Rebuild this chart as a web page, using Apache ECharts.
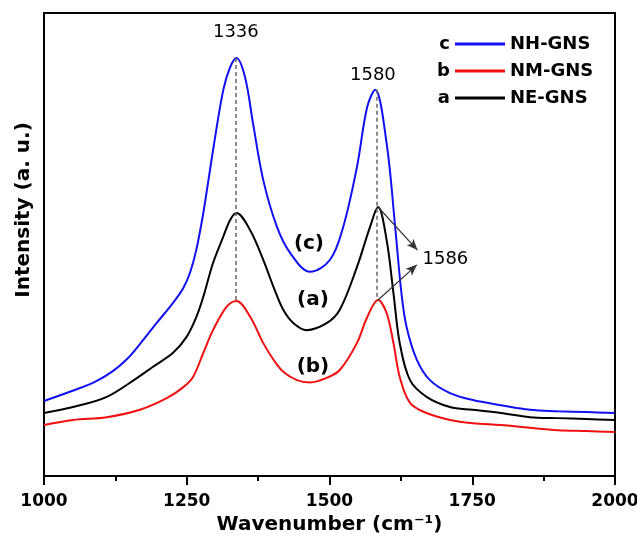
<!DOCTYPE html>
<html><head><meta charset="utf-8">
<script src="https://cdn.jsdelivr.net/npm/echarts@6/dist/echarts.min.js"></script>
<style>html,body{margin:0;padding:0;background:#fff}#c{width:637px;height:548px}</style>
</head><body><div id="c"></div>
<script>
// x-axis ticks
const xTicks = [1000, 1250, 1500, 1750, 2000];
// (c) NH-GNS
const waveC = [1000,1050,1090,1120,1145,1170,1197,1226,1244,1256,1267,1279,1288,1297,1314,1326,1337,1352,1366,1384,1408,1431,1466,1501,1524,1548,1566,1580,1600,1615,1626,1635,1653,1676,1711,1751,1800,1851,1900,1950,2000];
const intC  = [162,184,204,226,252,288,330,374,406,440,490,568,639,711,834,883,903,862,762,639,538,482,441,467,538,667,797,834,719,538,395,322,251,207,179,164,153,143,140,138,136];
// (b) NM-GNS
const waveB = [1000,1051,1110,1168,1215,1244,1261,1279,1296,1320,1337,1361,1384,1402,1419,1443,1466,1495,1518,1548,1566,1585,1600,1612,1623,1641,1670,1711,1751,1800,1851,1900,1950,2000];
const intB  = [110,121,127,143,168,192,214,266,315,366,378,344,287,251,225,207,202,212,229,287,343,380,352,287,214,158,136,121,114,110,104,99,97,95];
// (a) NE-GNS
const waveA = [1000,1051,1110,1162,1191,1226,1250,1267,1279,1296,1314,1326,1337,1361,1384,1402,1419,1437,1460,1495,1518,1548,1571,1585,1600,1612,1623,1641,1670,1711,1751,1800,1851,1900,1950,2000];
const intA  = [136,149,171,211,236,266,301,344,387,460,517,553,568,531,467,408,359,330,315,330,359,451,538,581,510,395,287,207,171,149,143,136,127,125,123,121];

const seriesNames = ['NH-GNS', 'NM-GNS', 'NE-GNS'];
const seriesLetters = ['c', 'b', 'a'];
const seriesColors = ['#1010f0', '#f01010', '#000000'];

// annotations (data coordinates)
const peakLines = [[1336, 903, 378], [1583, 834, 380]];
const arrows = [[[1585, 581], [1654, 488]], [[1585, 380], [1653, 456]]];
const texts = [
  {t: '1336', x: 1336, y: 959, bold: false},
  {t: '1580', x: 1576, y: 866, bold: false},
  {t: '1586', x: 1703, y: 467, bold: false},
  {t: '(c)', x: 1464, y: 501, bold: true},
  {t: '(a)', x: 1471, y: 380, bold: true},
  {t: '(b)', x: 1471, y: 235, bold: true}
];

const zip = (xs, ys) => xs.map((x, i) => [x, ys[i]]);
const FONT = 'DejaVu Sans';

const chart = echarts.init(document.getElementById('c'));
const mkSeries = (name, data, color, extra) => Object.assign({
  name, type: 'line', data, symbol: 'none', showSymbol: false, smooth: 0.35,
  lineStyle: {color, width: 2}, itemStyle: {color}, z: 3
}, extra || {});

chart.setOption({
  animation: false,
  backgroundColor: '#fff',
  grid: {left: 44, right: 22, top: 13, bottom: 72, show: true, borderColor: '#000', borderWidth: 2,
    outerBoundsMode: 'none', containLabel: false},
  legend: {
    orient: 'vertical', left: 455, top: 35, padding: 0, itemGap: 9,
    itemWidth: 50, itemHeight: 3, icon: 'rect',
    data: seriesNames,
    textStyle: {fontFamily: FONT, fontWeight: 'bold', fontSize: 18, lineHeight: 18, color: '#000'}
  },
  xAxis: {
    type: 'value', min: 1000, max: 2000, interval: 250,
    name: 'Wavenumber (cm⁻¹)', nameLocation: 'middle', nameGap: 36,
    nameTextStyle: {fontFamily: FONT, fontWeight: 'bold', fontSize: 20, color: '#000'},
    axisLine: {lineStyle: {color: '#000', width: 2}},
    axisTick: {length: 9, lineStyle: {color: '#000', width: 2}},
    minorTick: {show: true, splitNumber: 2, length: 5, lineStyle: {color: '#000', width: 2}},
    splitLine: {show: false},
    axisLabel: {margin: 17, fontFamily: FONT, fontWeight: 'bold', fontSize: 17, color: '#000',
      formatter: v => String(v)}
  },
  yAxis: {
    type: 'value', min: 0, max: 1000,
    axisLine: {show: true, lineStyle: {color: '#000', width: 2}},
    axisTick: {show: false}, axisLabel: {show: false}, splitLine: {show: false}
  },
  series: [
    mkSeries(seriesNames[0], zip(waveC, intC), seriesColors[0]),
    mkSeries(seriesNames[1], zip(waveB, intB), seriesColors[1]),
    mkSeries(seriesNames[2], zip(waveA, intA), seriesColors[2], {
      markLine: {
        silent: true, animation: false,
        data: peakLines.map(p => [
          {coord: [p[0], p[1]], symbol: 'none', lineStyle: {type: [4, 3], color: '#666', width: 1.5}},
          {coord: [p[0], p[2]], symbol: 'none'}
        ]).concat(arrows.map(a => [
          {coord: a[0], symbol: 'none', lineStyle: {type: 'solid', color: '#333', width: 1.2}},
          {coord: a[1], symbol: 'arrow', symbolSize: [7, 11]}
        ])),
        label: {show: false}
      }
    })
  ]
});

const g = [];
texts.forEach(tx => {
  const p = chart.convertToPixel({gridIndex: 0}, [tx.x, tx.y]);
  g.push({type: 'text', x: p[0], y: p[1], z: 10, style: {
    text: tx.t, align: 'center', verticalAlign: 'middle', fill: '#000',
    font: (tx.bold ? 'bold 20px ' : '18px ') + FONT
  }});
});
seriesLetters.forEach((l, i) => {
  g.push({type: 'text', x: 450, y: 44 + i * 27, style: {
    text: l, align: 'right', verticalAlign: 'middle', fill: '#000', font: 'bold 18px ' + FONT
  }});
});
g.push({type: 'text', x: 24, y: 210, rotation: Math.PI / 2, style: {
  text: 'Intensity (a. u.)', align: 'center', verticalAlign: 'middle', fill: '#000', font: 'bold 20px ' + FONT
}});
chart.setOption({graphic: g});
</script>
</body></html>
